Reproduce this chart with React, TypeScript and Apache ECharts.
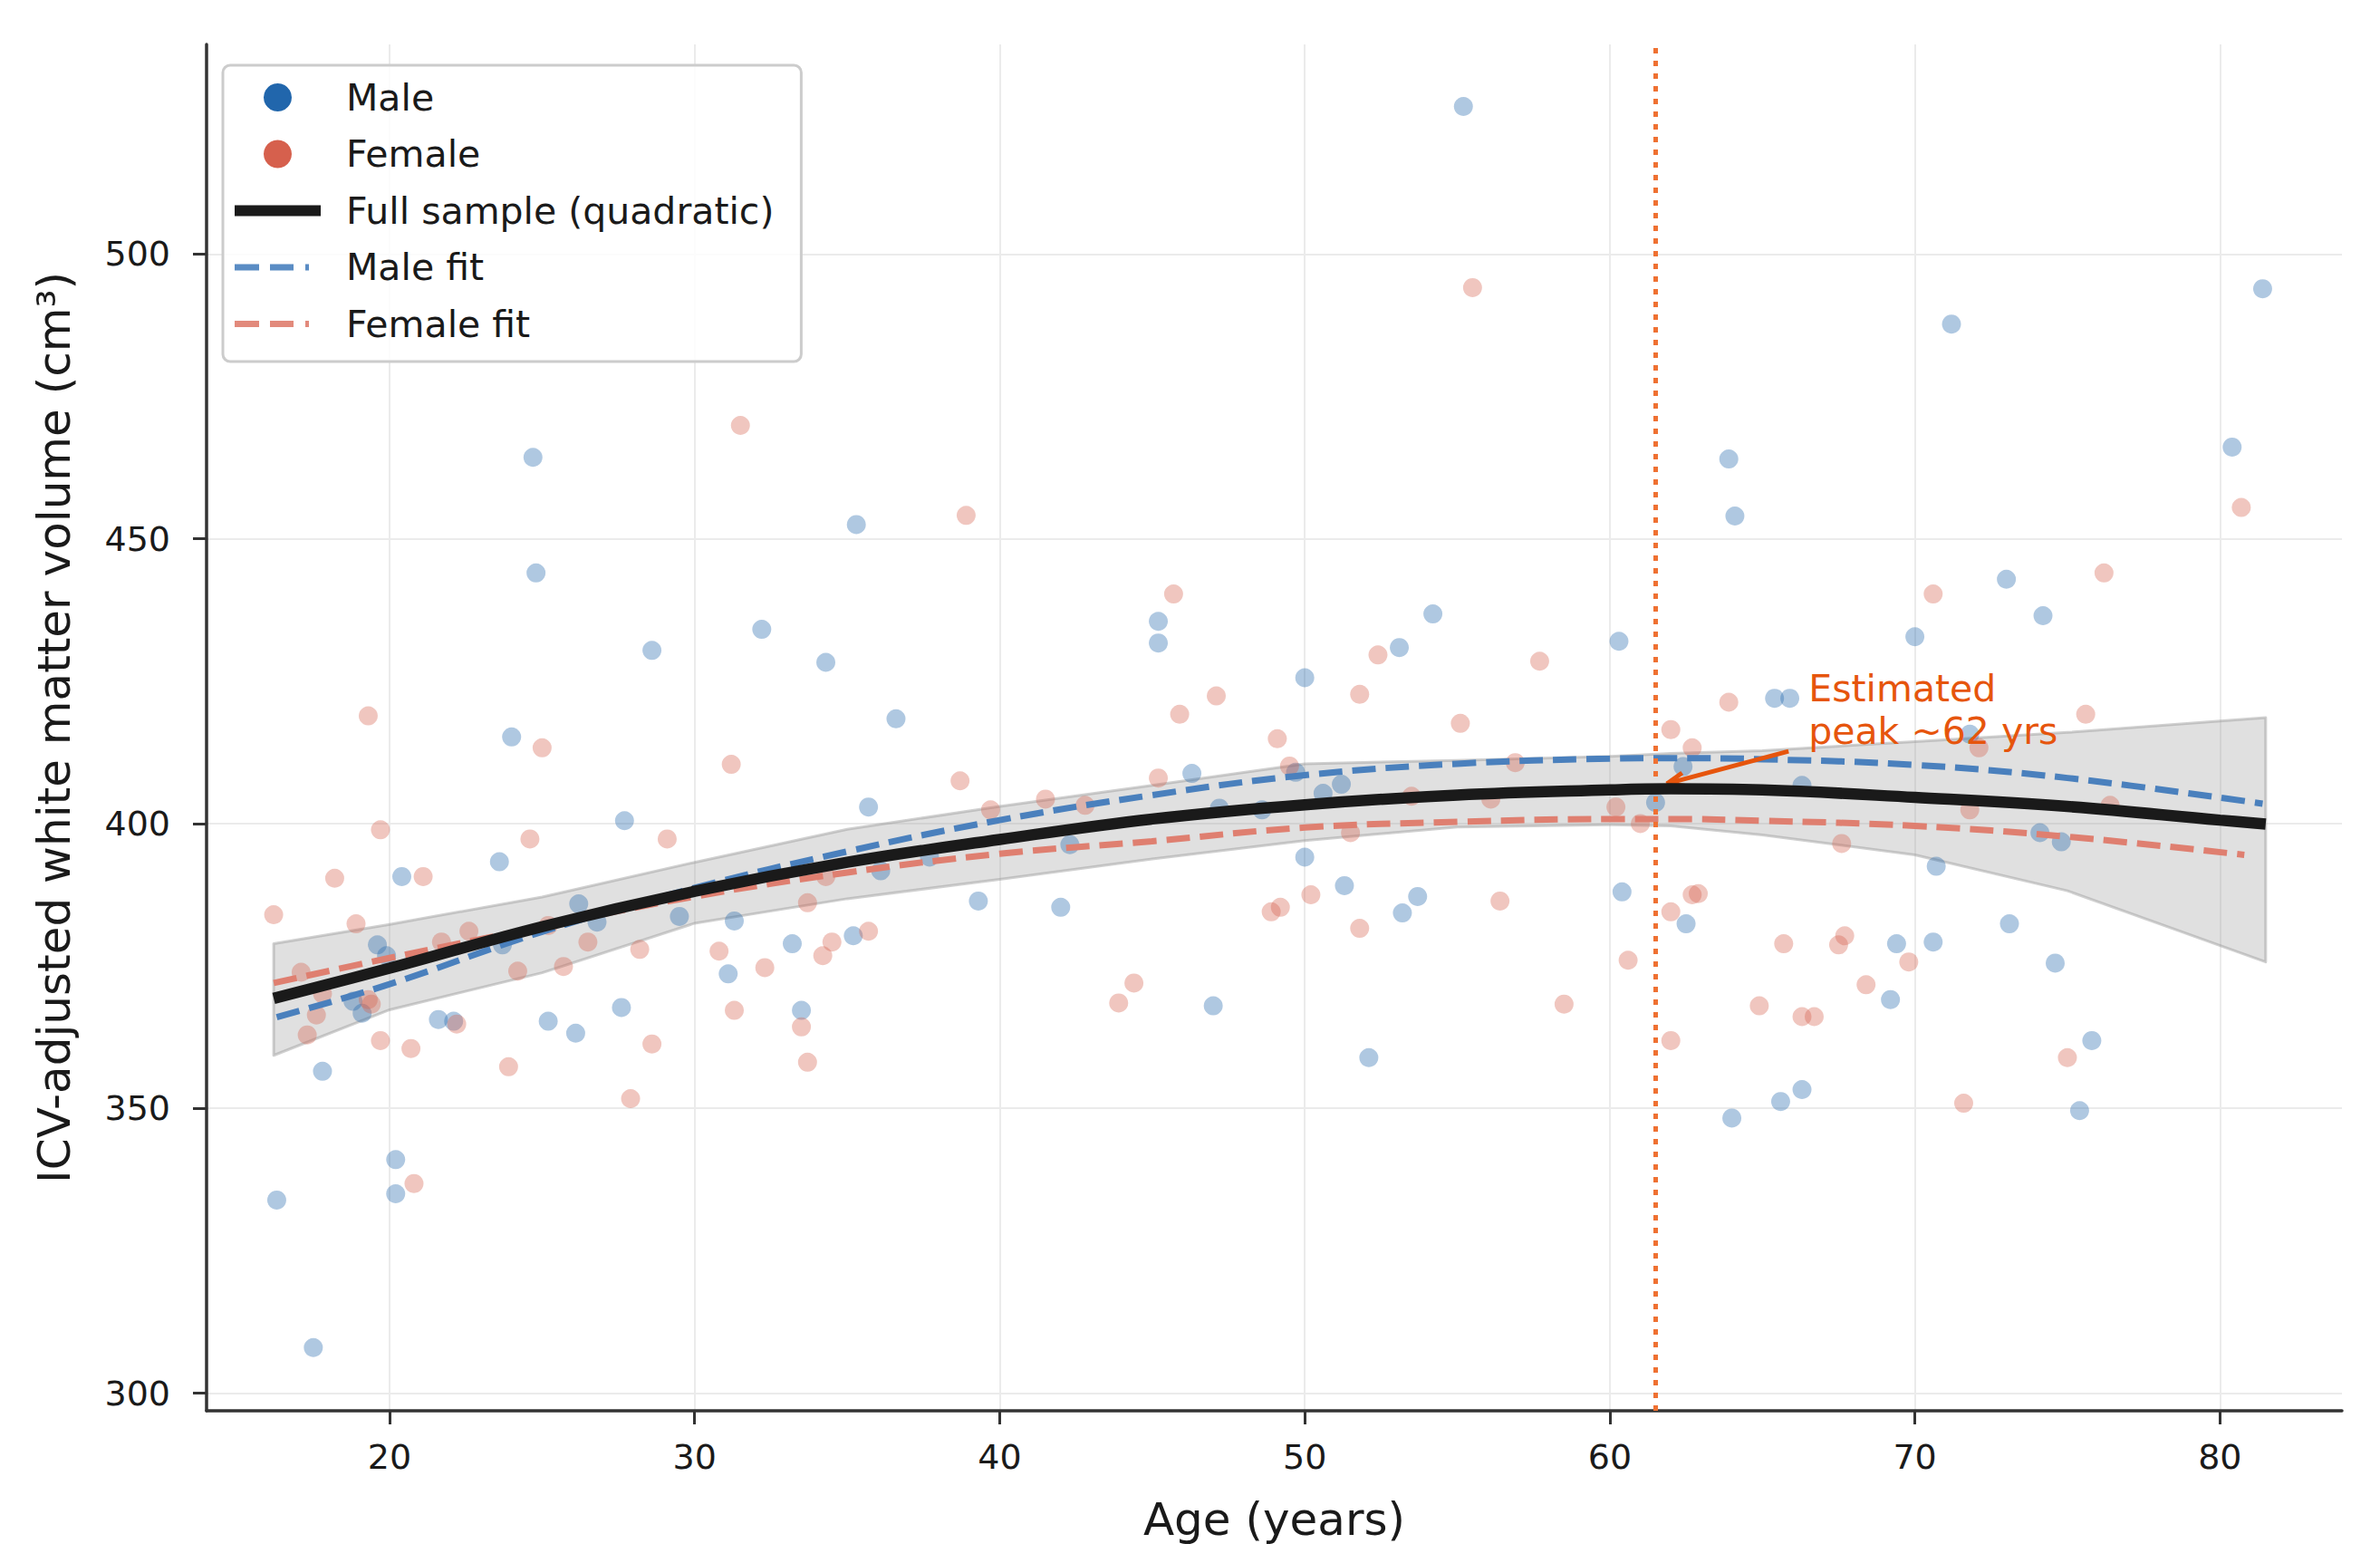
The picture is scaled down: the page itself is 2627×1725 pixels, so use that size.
import React, { useEffect, useRef } from "react";
import * as echarts from "echarts";

const FONT = "DejaVu Sans";

// Scatter data: Male
const maleAge = [16.3, 17.5, 17.8, 18.8, 19.1, 19.6, 19.9, 20.4, 20.2, 20.2, 21.6, 22.1, 23.6, 23.7, 24.0, 24.7, 24.8, 25.2, 26.1, 26.2, 26.8, 27.6, 27.7, 28.6, 29.5, 31.1, 31.3, 32.2, 33.2, 33.5, 34.3, 35.2, 35.3, 35.7, 36.1, 36.6, 37.7, 39.3, 42.0, 42.3, 45.2, 45.2, 46.3, 47.0, 47.2, 48.6, 49.7, 50.0, 50.0, 50.6, 51.2, 51.3, 52.1, 53.1, 53.2, 53.7, 54.2, 55.2, 60.3, 60.4, 61.5, 62.4, 62.5, 63.9, 64.1, 64.0, 65.4, 65.9, 65.6, 66.3, 66.3, 69.2, 69.4, 70.0, 70.6, 70.7, 71.2, 71.8, 73.0, 73.1, 74.2, 74.1, 74.6, 74.8, 75.4, 75.8, 80.4, 81.4];
const maleVol = [333.9, 308.0, 356.5, 368.8, 366.7, 378.7, 376.8, 390.7, 341.0, 335.0, 365.6, 365.3, 393.3, 378.7, 415.2, 464.3, 444.0, 365.3, 363.2, 385.9, 382.7, 367.7, 400.5, 430.4, 383.7, 373.6, 382.9, 434.1, 378.9, 367.2, 428.3, 380.3, 452.5, 402.9, 391.7, 418.4, 394.1, 386.4, 385.3, 396.3, 435.5, 431.7, 408.8, 368.0, 402.7, 402.4, 409.0, 425.6, 394.1, 405.3, 406.9, 389.1, 358.9, 430.9, 384.3, 387.2, 436.8, 525.9, 432.0, 388.0, 403.7, 410.0, 382.4, 464.0, 454.0, 348.3, 422.0, 422.0, 351.2, 406.7, 353.3, 369.1, 378.9, 432.8, 379.2, 392.5, 487.7, 415.7, 442.9, 382.4, 436.5, 398.4, 375.5, 396.8, 349.6, 361.9, 466.1, 493.9];

// Scatter data: Female
const femaleAge = [16.2, 17.1, 17.3, 17.6, 17.8, 18.2, 18.9, 19.3, 19.3, 19.4, 19.7, 19.7, 20.7, 20.8, 21.1, 21.7, 22.2, 22.6, 23.9, 24.2, 24.6, 25.0, 25.2, 25.7, 26.5, 27.9, 28.2, 28.6, 29.1, 30.8, 31.2, 31.3, 31.5, 32.3, 33.5, 33.7, 33.7, 34.2, 34.3, 34.5, 35.7, 38.7, 38.9, 39.7, 41.5, 42.8, 43.9, 44.4, 45.2, 45.7, 45.9, 47.1, 48.9, 49.2, 49.1, 49.5, 50.2, 51.5, 51.8, 51.8, 52.4, 53.5, 55.1, 55.5, 56.1, 56.4, 56.9, 57.7, 58.5, 60.2, 60.6, 61.0, 62.0, 62.0, 62.0, 62.7, 62.9, 62.7, 63.9, 64.9, 65.7, 66.3, 66.7, 67.6, 67.5, 67.7, 68.4, 69.8, 70.6, 71.8, 72.1, 71.6, 75.0, 75.6, 76.2, 76.4, 80.7];
const femaleVol = [384.0, 373.9, 362.9, 366.4, 370.1, 390.4, 382.4, 418.9, 369.1, 368.3, 398.9, 361.9, 360.5, 336.8, 390.7, 379.2, 364.8, 381.1, 357.3, 374.1, 397.3, 413.3, 382.1, 374.9, 379.2, 351.7, 377.9, 361.3, 397.3, 377.6, 410.4, 367.2, 469.9, 374.7, 364.3, 358.1, 386.1, 376.8, 390.7, 379.2, 381.1, 407.5, 454.1, 402.4, 404.3, 403.2, 368.5, 372.0, 408.0, 440.3, 419.2, 422.4, 384.5, 385.3, 414.9, 410.1, 387.5, 398.4, 381.6, 422.7, 429.6, 404.8, 417.6, 494.1, 404.3, 386.4, 410.7, 428.5, 368.3, 402.9, 376.0, 400.0, 416.5, 384.5, 361.9, 387.5, 387.7, 413.3, 421.3, 368.0, 378.9, 366.1, 366.1, 396.5, 378.7, 380.3, 371.7, 375.7, 440.3, 402.4, 413.3, 350.9, 358.9, 419.2, 444.0, 403.2, 455.5];

// Fitted curves
const fullAge = [16.2, 20, 25, 30, 35, 40, 45, 50, 55, 60, 62, 65, 70, 75, 80, 81.5];
const fullFit = [369.3, 374.6, 381.9, 388.1, 393.2, 397.2, 400.8, 403.3, 405.0, 405.9, 406.1, 405.9, 404.6, 403.0, 400.6, 399.9];

const maleFitAge = [16.3, 20, 25, 30, 35, 40, 45, 50, 55, 60, 62, 65, 70, 75, 81.4];
const maleFit = [366.0, 371.8, 381.0, 388.7, 395.1, 400.6, 405.0, 408.5, 410.5, 411.4, 411.5, 411.3, 410.3, 408.0, 403.5];

const femaleFitAge = [16.2, 20, 25, 30, 35, 40, 45, 50, 55, 60, 62, 65, 70, 75, 80.8];
const femaleFit = [372.0, 376.4, 381.9, 387.2, 391.4, 394.7, 396.9, 399.3, 400.3, 400.8, 400.8, 400.5, 399.6, 397.7, 394.5];

// Confidence band of full-sample fit
const bandAge = [16.2, 20, 25, 30, 35, 40, 45, 50, 55, 60, 62, 65, 70, 75, 81.5];
const bandUpper = [378.9, 382.3, 387.1, 393.2, 399.0, 403.0, 406.7, 410.5, 411.1, 411.8, 412.3, 412.8, 414.4, 416.0, 418.6];
const bandLower = [359.3, 367.3, 373.8, 382.5, 386.8, 390.2, 393.8, 397.0, 399.4, 399.8, 399.6, 398.0, 394.5, 388.2, 375.7];

// Ticks
const xTicks = [20, 30, 40, 50, 60, 70, 80];
const yTicks = [300, 350, 400, 450, 500];

// Peak annotation
const peakAge = 61.5;
const arrowTail = [65.86, 412.7];
const arrowTip = [61.87, 407.0];
const arrowArm1 = [62.37, 408.9];
const arrowArm2 = [62.48, 406.6];
const labelAnchor = [66.5, 420];

const zip = (a: number[], b: number[]) => a.map((v, i) => [v, b[i]]);

// legend handle shapes (95 x 31 box, tiny corner marks keep the box size)
const BOX = "M0,0h0.01v0.01h-0.01z M95,31h-0.01v-0.01h0.01z ";
const solidIcon = "path://" + BOX + "M0,9.5h95v12h-95z";
const dashIcon = "path://" + BOX + "M0,12h27v7h-27z M39,12h26v7h-26z M78,12h4v7h-4z";

export default function App() {
  const ref = useRef<HTMLDivElement>(null);
  useEffect(() => {
    document.body.style.margin = "0";
    if (!ref.current) return;
    const chart = echarts.init(ref.current, undefined, { renderer: "svg" });
    const axisColor = "#333333";
    const annColor = "#e6550d";
    const option: any = {
      animation: false,
      backgroundColor: "#ffffff",
      textStyle: { fontFamily: FONT },
      grid: { left: 228, right: 42, top: 49, bottom: 168 },
      legend: {
        orient: "vertical",
        left: 246,
        top: 72,
        padding: [15, 30, 21, 13],
        itemGap: 21.5,
        itemWidth: 95,
        itemHeight: 31,
        borderColor: "#cccccc",
        borderWidth: 3,
        borderRadius: 8,
        backgroundColor: "rgba(255,255,255,0.85)",
        textStyle: { fontFamily: FONT, fontSize: 41, color: "#1a1a1a", padding: [0, 0, 0, 23] },
        data: [
          { name: "Male", icon: "circle", itemStyle: { color: "#2166ac", opacity: 1, borderWidth: 0 } },
          { name: "Female", icon: "circle", itemStyle: { color: "#d6604d", opacity: 1, borderWidth: 0 } },
          { name: "Full sample (quadratic)", icon: solidIcon, itemStyle: { color: "#1a1a1a", borderWidth: 0 } },
          { name: "Male fit", icon: dashIcon, itemStyle: { color: "#5a8cc4", borderWidth: 0 } },
          { name: "Female fit", icon: dashIcon, itemStyle: { color: "#e28a7c", borderWidth: 0 } },
        ],
        z: 20,
      },
      xAxis: {
        type: "value",
        min: 14,
        max: 84,
        name: "Age (years)",
        nameLocation: "middle",
        nameGap: 95,
        nameTextStyle: { fontFamily: FONT, fontSize: 50, color: "#1a1a1a" },
        axisLine: { show: true, lineStyle: { color: axisColor, width: 3.5 } },
        axisTick: { show: true, length: 15, lineStyle: { color: axisColor, width: 3 }, customValues: xTicks },
        axisLabel: { customValues: xTicks, fontFamily: FONT, fontSize: 38, color: "#1a1a1a", margin: 32 },
        splitLine: { show: true, lineStyle: { color: "#ebebeb", width: 2 } },
      },
      yAxis: {
        type: "value",
        min: 296.9,
        max: 536.8,
        name: "ICV-adjusted white matter volume (cm³)",
        nameLocation: "middle",
        nameGap: 143,
        nameTextStyle: { fontFamily: FONT, fontSize: 50, color: "#1a1a1a" },
        axisLine: { show: true, lineStyle: { color: axisColor, width: 3.5 } },
        axisTick: { show: true, length: 15, lineStyle: { color: axisColor, width: 3 }, customValues: yTicks },
        axisLabel: { customValues: yTicks, fontFamily: FONT, fontSize: 38, color: "#1a1a1a", margin: 40 },
        splitLine: { show: true, lineStyle: { color: "#ebebeb", width: 2 } },
      },
      series: [
        {
          name: "band",
          type: "custom",
          silent: true,
          z: 1,
          data: zip(bandAge, bandUpper),
          encode: { x: 0, y: 1 },
          renderItem: (params: any, api: any) => {
            if (params.dataIndex !== 0) return null;
            const top = bandAge.map((a, i) => api.coord([a, bandUpper[i]]));
            const bottom = bandAge.map((a, i) => api.coord([a, bandLower[i]])).reverse();
            return {
              type: "polygon",
              shape: { points: top.concat(bottom) },
              style: { fill: "rgba(160,160,160,0.32)", stroke: "rgba(150,150,150,0.45)", lineWidth: 3, lineJoin: "round" },
            };
          },
        },
        {
          name: "Male",
          type: "scatter",
          data: zip(maleAge, maleVol),
          symbolSize: 21,
          itemStyle: { color: "rgba(33,102,172,0.45)" },
          z: 3,
        },
        {
          name: "Female",
          type: "scatter",
          data: zip(femaleAge, femaleVol),
          symbolSize: 21,
          itemStyle: { color: "rgba(214,96,77,0.45)" },
          z: 3,
        },
        {
          name: "Male fit",
          type: "line",
          data: zip(maleFitAge, maleFit),
          smooth: 0.4,
          symbol: "none",
          lineStyle: { color: "#4a80bd", width: 7, type: [26, 11] },
          itemStyle: { color: "#4a80bd" },
          z: 4,
        },
        {
          name: "Female fit",
          type: "line",
          data: zip(femaleFitAge, femaleFit),
          smooth: 0.4,
          symbol: "none",
          lineStyle: { color: "#df7f70", width: 7, type: [26, 11] },
          itemStyle: { color: "#df7f70" },
          z: 4,
        },
        {
          name: "Full sample (quadratic)",
          type: "line",
          data: zip(fullAge, fullFit),
          smooth: 0.4,
          symbol: "none",
          lineStyle: { color: "#1a1a1a", width: 12.5 },
          itemStyle: { color: "#1a1a1a" },
          z: 5,
          markLine: {
            silent: true,
            symbol: ["none", "none"],
            label: { show: false },
            emphasis: { disabled: true },
            lineStyle: { color: annColor, width: 5, type: "solid" },
            data: [
              [
                { xAxis: peakAge, yAxis: 296.9, lineStyle: { color: "#ef7132", width: 5, type: [6, 8] } },
                { xAxis: peakAge, yAxis: 536.8 },
              ],
              [{ coord: arrowTail }, { coord: arrowTip }],
              [{ coord: arrowTip }, { coord: arrowArm1 }],
              [{ coord: arrowTip }, { coord: arrowArm2 }],
            ],
          },
          markPoint: {
            silent: true,
            symbol: "circle",
            symbolSize: 1,
            itemStyle: { color: "rgba(0,0,0,0)" },
            data: [
              {
                coord: labelAnchor,
                label: {
                  show: true,
                  position: "right",
                  distance: 0,
                  formatter: "Estimated\npeak ~62 yrs",
                  color: annColor,
                  fontFamily: FONT,
                  fontSize: 41,
                  lineHeight: 47,
                  align: "left",
                },
              },
            ],
          },
        },
      ],
    };
    chart.setOption(option);
    return () => chart.dispose();
  }, []);
  return <div ref={ref} style={{ width: 2627, height: 1725 }} />;
}
